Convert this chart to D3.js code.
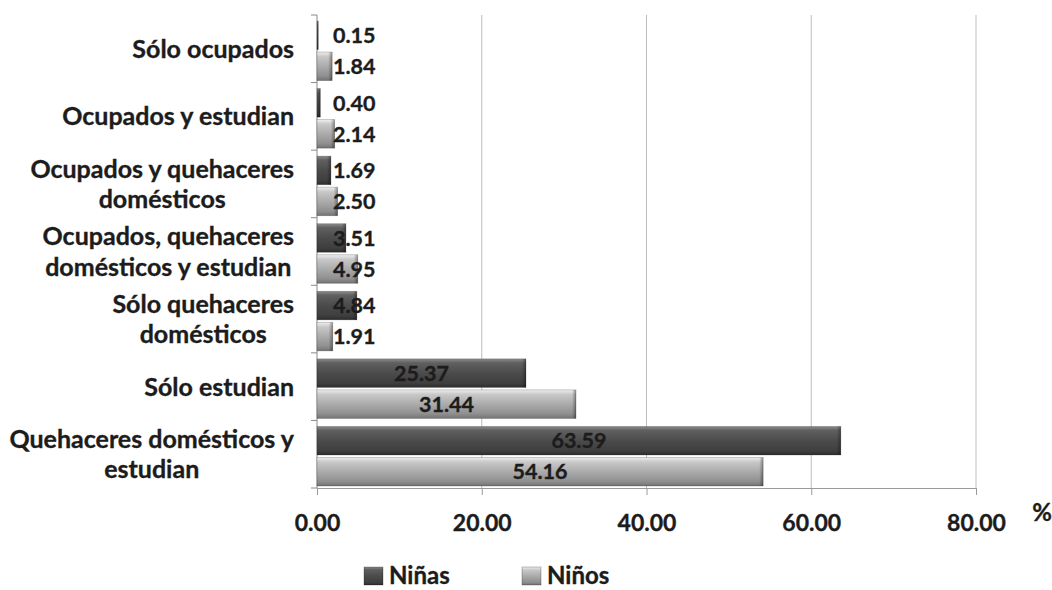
<!DOCTYPE html>
<html>
<head>
<meta charset="utf-8">
<script src="https://cdn.jsdelivr.net/npm/d3@7"></script>
<style>
  body { margin: 0; background: #fff; }
  svg { display: block; }
  text { font-family: Lato, "Open Sans", sans-serif; font-weight: 700; fill: #1c1c1c;
         stroke: #1c1c1c; stroke-width: 0.35px; }
</style>
</head>
<body>
<svg id="chart" width="1052" height="590"></svg>
<script>
// Activity categories (top to bottom) and their wrapped label lines
const categories = [
  "Sólo ocupados",
  "Ocupados y estudian",
  "Ocupados y quehaceres domésticos",
  "Ocupados, quehaceres domésticos y estudian",
  "Sólo quehaceres domésticos",
  "Sólo estudian",
  "Quehaceres domésticos y estudian"
];
const categoryLines = [
  ["Sólo ocupados"],
  ["Ocupados y estudian"],
  ["Ocupados y quehaceres", "domésticos"],
  ["Ocupados, quehaceres", "domésticos y estudian"],
  ["Sólo quehaceres", "domésticos"],
  ["Sólo estudian"],
  ["Quehaceres domésticos y", "estudian"]
];
const seriesNames = ["Niñas", "Niños"];
const ninas = [0.15, 0.40, 1.69, 3.51, 4.84, 25.37, 63.59];
const ninos = [1.84, 2.14, 2.50, 4.95, 1.91, 31.44, 54.16];
const xTicks = [0, 20, 40, 60, 80];
const unitLabel = "%";

const svg = d3.select("#chart");
const CAT_FONT = 25, VAL_FONT = 21.5, TICK_FONT = 23, LEGEND_FONT = 24;

const x = d3.scaleLinear().domain([0, 80]).range([317, 976]);
const y = d3.scaleBand().domain(categories).range([15, 488]);
const sub = d3.scaleBand().domain(seriesNames).range([6, y.bandwidth() - 2]).paddingInner(0.08);

const rows = categories.map((c, i) => ({
  cat: c, lines: categoryLines[i],
  vals: [{ s: "Niñas", v: ninas[i] }, { s: "Niños", v: ninos[i] }]
}));

// Cylinder-like shading for the bars
const defs = svg.append("defs");
const shades = {
  "Niñas": [["0%", "#8c8c8c"], ["14%", "#606060"], ["50%", "#4b4b4b"], ["86%", "#3e3e3e"], ["100%", "#2c2c2c"]],
  "Niños": [["0%", "#efefef"], ["16%", "#c8c8c8"], ["50%", "#ababab"], ["84%", "#8f8f8f"], ["100%", "#727272"]]
};
seriesNames.forEach((s, k) => {
  const g = defs.append("linearGradient").attr("id", "grad" + k)
    .attr("x1", 0).attr("y1", 0).attr("x2", 0).attr("y2", 1);
  shades[s].forEach(([o, c]) => g.append("stop").attr("offset", o).attr("stop-color", c));
});
const capGrad = defs.append("linearGradient").attr("id", "cap").attr("x1", 0).attr("x2", 1).attr("y1", 0).attr("y2", 0);
capGrad.append("stop").attr("offset", "0%").attr("stop-color", "#000").attr("stop-opacity", 0);
capGrad.append("stop").attr("offset", "100%").attr("stop-color", "#000").attr("stop-opacity", 0.35);

// Vertical gridlines
svg.append("g").selectAll("line").data(xTicks.filter(d => d > 0)).join("line")
  .attr("x1", d => x(d)).attr("x2", d => x(d))
  .attr("y1", y.range()[0]).attr("y2", y.range()[1])
  .attr("stroke", "#bdbdbd").attr("stroke-width", 1);

// Bottom axis
const xAxis = svg.append("g").attr("transform", `translate(0,${y.range()[1]})`)
  .call(d3.axisBottom(x).tickValues(xTicks).tickFormat(d3.format(".2f")).tickSize(7).tickPadding(20));
xAxis.select(".domain").attr("stroke", "#9a9a9a");
xAxis.selectAll(".tick line").attr("stroke", "#9a9a9a");
xAxis.selectAll("text").attr("font-size", TICK_FONT).attr("font-family", null).attr("fill", "#1c1c1c");

// Left axis line and band separators
const bounds = categories.map(c => y(c)).concat([y.range()[1]]);
svg.append("line").attr("x1", x(0)).attr("x2", x(0))
  .attr("y1", y.range()[0]).attr("y2", y.range()[1]).attr("stroke", "#8a8a8a");
svg.append("g").selectAll("line").data(bounds).join("line")
  .attr("x1", x(0) - 6).attr("x2", x(0)).attr("y1", d => d).attr("y2", d => d)
  .attr("stroke", "#8a8a8a");

// Bars
const groups = svg.append("g").selectAll("g").data(rows).join("g")
  .attr("transform", d => `translate(0,${y(d.cat)})`);
groups.selectAll("rect.bar").data(d => d.vals).join("rect").attr("class", "bar")
  .attr("x", x(0)).attr("y", d => sub(d.s))
  .attr("width", d => x(d.v) - x(0)).attr("height", sub.bandwidth())
  .attr("fill", d => `url(#grad${seriesNames.indexOf(d.s)})`)
  .attr("stroke", "rgba(0,0,0,0.25)").attr("stroke-width", 0.8);
groups.selectAll("rect.cap").data(d => d.vals).join("rect").attr("class", "cap")
  .attr("x", d => Math.max(x(0), x(d.v) - 4)).attr("y", d => sub(d.s))
  .attr("width", d => Math.min(4, x(d.v) - x(0))).attr("height", sub.bandwidth())
  .attr("fill", "url(#cap)");

// Value labels: centred on long bars, set just past the axis on short ones
groups.selectAll("text.val").data(d => d.vals).join("text").attr("class", "val")
  .attr("x", d => d.v >= 10 ? x(d.v / 2) : x(0) + 16)
  .attr("text-anchor", d => d.v >= 10 ? "middle" : "start")
  .attr("y", d => sub(d.s) + sub.bandwidth() / 2)
  .attr("dy", "0.36em").attr("font-size", VAL_FONT)
  .text(d => d.v.toFixed(2));

// Category labels, wrapped and centred within a right-aligned block
const LINE_H = 30.5;
groups.each(function (d) {
  const g = d3.select(this).append("g");
  const ts = g.selectAll("text").data(d.lines).join("text")
    .attr("font-size", CAT_FONT).attr("text-anchor", "middle")
    .attr("y", (l, i) => y.bandwidth() / 2 + (i - (d.lines.length - 1) / 2) * LINE_H)
    .attr("dy", "0.36em").text(l => l);
  const maxW = d3.max(ts.nodes(), n => n.getComputedTextLength());
  ts.attr("x", x(0) - 23 - maxW / 2);
});

// Unit label
svg.append("text").attr("x", 1042).attr("y", 512).attr("dy", "0.36em")
  .attr("text-anchor", "middle").attr("font-size", 24).text(unitLabel);

// Legend
const legend = svg.append("g").selectAll("g").data(seriesNames).join("g")
  .attr("transform", (d, i) => `translate(${364 + i * 158},567)`);
legend.append("rect").attr("width", 19).attr("height", 18)
  .attr("fill", (d, i) => `url(#grad${i})`).attr("stroke", "rgba(0,0,0,0.25)");
legend.append("text").attr("x", 25).attr("y", 17).attr("font-size", LEGEND_FONT).text(d => d);
</script>
</body>
</html>
